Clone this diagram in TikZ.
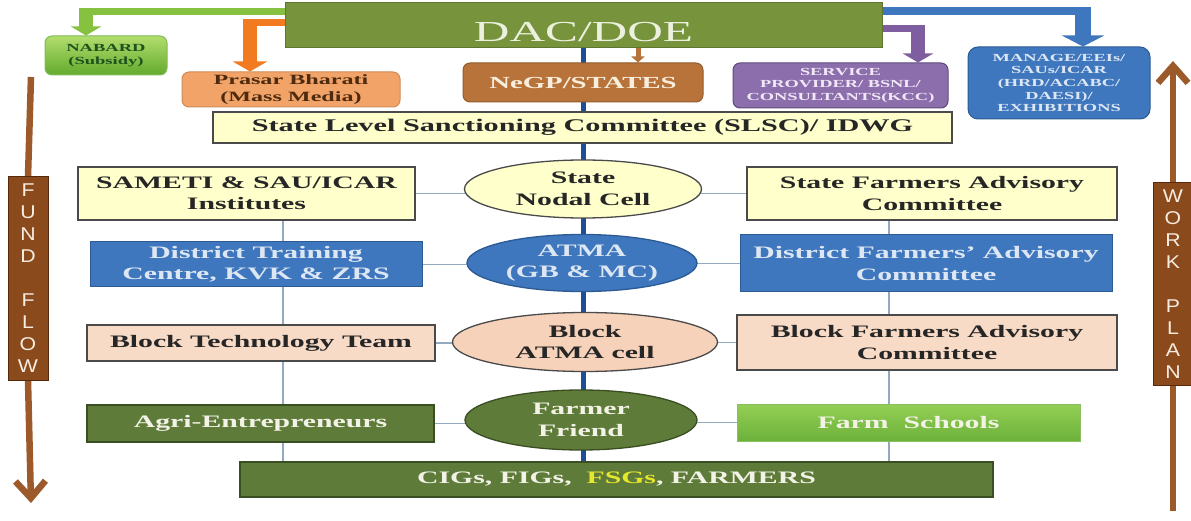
\documentclass[tikz,border=0pt]{standalone}
\usepackage{fontspec}
\setmainfont{Liberation Serif}[FakeStretch=1.7]
\newfontfamily\lettersf{Liberation Sans}[FakeStretch=1.15]
\usetikzlibrary{arrows.meta,shapes.geometric,calc}
\pgfdeclarelayer{bg}
\pgfsetlayers{bg,main}
\definecolor{cdac}{HTML}{77933C}
\definecolor{cdactext}{HTML}{EBF1DE}
\definecolor{cgreenarr}{HTML}{86C140}
\definecolor{cnabtop}{HTML}{B2DD6C}
\definecolor{cnabbot}{HTML}{62AA2E}
\definecolor{corange}{HTML}{F27B22}
\definecolor{cprasar}{HTML}{F2A468}
\definecolor{cprasartext}{HTML}{4E2A0E}
\definecolor{cnegp}{HTML}{B8733A}
\definecolor{cnegptext}{HTML}{F8EEDD}
\definecolor{cbrownarr}{HTML}{B5743C}
\definecolor{cpurple}{HTML}{7E5E9E}
\definecolor{cpurplebox}{HTML}{8D6EAD}
\definecolor{cpurpleb}{HTML}{5E4A7A}
\definecolor{cpurpletext}{HTML}{F0E8F6}
\definecolor{cblue}{HTML}{3F77BE}
\definecolor{cblueb}{HTML}{2C5A92}
\definecolor{cbluetext}{HTML}{DDE7F3}
\definecolor{ccentral}{HTML}{1E4E96}
\definecolor{cyellow}{HTML}{FFFFCC}
\definecolor{cborder}{HTML}{4A4A4A}
\definecolor{cdark}{HTML}{262626}
\definecolor{cpeach}{HTML}{F8DBC6}
\definecolor{cpeachoval}{HTML}{F6D2BA}
\definecolor{cdgreen}{HTML}{5F7B3A}
\definecolor{cdgreenb}{HTML}{3A4E22}
\definecolor{cgtext}{HTML}{F2F2E6}
\definecolor{cfstop}{HTML}{94CF55}
\definecolor{cfsbot}{HTML}{6CB13A}
\definecolor{cfsg}{HTML}{E6E62A}
\definecolor{cthin}{HTML}{93A9C1}
\definecolor{cflow}{HTML}{8B4A1C}
\definecolor{cflowb}{HTML}{55290C}
\definecolor{cflowarr}{HTML}{9C5A2A}
\definecolor{cflowtext}{HTML}{F6ECE0}
\begin{document}
\begin{tikzpicture}[x=1pt,y=-1pt,
  boxbase/.style={rectangle, inner sep=0pt, align=center,
    font=\bfseries\fontsize{17.5pt}{21.5pt}\selectfont},
  yellowbox/.style={boxbase, fill=cyellow, draw=cborder, line width=1.5pt, text=cdark},
  bluebox/.style={boxbase, fill=cblue, draw=cblueb, line width=1pt, text=cbluetext},
  peachbox/.style={boxbase, fill=cpeach, draw=cborder, line width=1.5pt, text=cdark},
  greenbox/.style={boxbase, fill=cdgreen, draw=cdgreenb, line width=1.5pt, text=cgtext},
  ovalbase/.style={ellipse, inner sep=0pt, align=center, line width=1.3pt,
    font=\bfseries\fontsize{17.5pt}{21.5pt}\selectfont},
  topbox/.style={rectangle, rounded corners=7pt, inner sep=0pt, align=center, line width=1pt},
  thinline/.style={draw=cthin, line width=1.8pt},
  centralline/.style={draw=ccentral, line width=4.5pt},
  flowbox/.style={rectangle, fill=cflow, draw=cflowb, line width=1pt, inner sep=0pt,
    align=center, text=cflowtext, font=\lettersf\fontsize{18.5pt}{22pt}\selectfont},
  flowarrow/.style={draw=cflowarr, line width=6.5pt},
]
\useasboundingbox (0,0) rectangle (1191,521);
\begin{pgfonlayer}{bg}
  \fill[white] (0,0) rectangle (1191,521);
\end{pgfonlayer}

% ---------- top row ----------
\node[rectangle, fill=cdac, draw=cdac!80!black, line width=0.8pt, minimum width=597pt, minimum height=45pt,
  inner sep=0pt, text=cdactext, font=\fontsize{29pt}{30pt}\selectfont] (DAC) at (583.5,24.5)
  {\raisebox{-17pt}[0pt][0pt]{DAC/DOE}};
\node[topbox, top color=cnabtop, bottom color=cnabbot, draw=cnabbot!80!white, minimum width=122pt, minimum height=39pt,
  text=cdark!80!green, font=\bfseries\fontsize{10.9pt}{13pt}\selectfont] (NABARD) at (106,55.5) {NABARD\\(Subsidy)};
\node[topbox, fill=cprasar, draw=cprasar!85!black, minimum width=218pt, minimum height=35pt,
  text=cprasartext, font=\bfseries\fontsize{14.2pt}{16.5pt}\selectfont] (PB) at (291,89.5) {Prasar Bharati\\(Mass Media)};
\node[topbox, fill=cnegp, draw=cnegp!80!black, minimum width=240pt, minimum height=39pt,
  text=cnegptext, font=\bfseries\fontsize{16.9pt}{19pt}\selectfont] (NEGP) at (583,82.5) {NeGP/STATES};
\node[topbox, fill=cpurplebox, draw=cpurpleb, minimum width=215pt, minimum height=45pt,
  text=cpurpletext, font=\bfseries\fontsize{10.8pt}{12.5pt}\selectfont] (SP) at (840.5,85.5)
  {SERVICE\\PROVIDER/ BSNL/\\CONSULTANTS(KCC)};
\node[topbox, rounded corners=10pt, fill=cblue, draw=cblueb, minimum width=182pt, minimum height=72pt,
  text=cbluetext, font=\bfseries\fontsize{10.8pt}{12.6pt}\selectfont] (MAN) at (1059,83)
  {MANAGE/EEIs/\\SAUs/ICAR\\(HRD/ACABC/\\DAESI)/\\EXHIBITIONS};

\node[yellowbox, minimum width=739pt, minimum height=31pt, font=\bfseries\fontsize{17.8pt}{20pt}\selectfont]
  (SLSC) at (582.5,127.5) {State Level Sanctioning Committee (SLSC)/ IDWG};

% ---------- state row ----------
\node[yellowbox, minimum width=337pt, minimum height=53pt] (SAMETI) at (246.5,193.5) {SAMETI \& SAU/ICAR\\Institutes};
\node[ovalbase, fill=cyellow, draw=cborder, text=cdark, minimum width=237pt, minimum height=58pt] (SNC) at (583,189) {State\\Nodal Cell};
\node[yellowbox, minimum width=370pt, minimum height=53pt] (SFAC) at (932,193.5) {State Farmers Advisory\\Committee};

% ---------- district row ----------
\node[bluebox, minimum width=332pt, minimum height=45pt] (DTC) at (256,264.5) {District Training\\Centre, KVK \& ZRS};
\node[ovalbase, fill=cblue, draw=cblueb, text=cbluetext, minimum width=230pt, minimum height=57pt] (ATMA) at (582,263) {ATMA\\(GB \& MC)};
\node[bluebox, minimum width=372pt, minimum height=57pt] (DFAC) at (926,263.5) {District Farmers’ Advisory\\Committee};

% ---------- block row ----------
\node[peachbox, minimum width=348pt, minimum height=36pt] (BTT) at (261,343) {Block Technology Team};
\node[ovalbase, fill=cpeachoval, draw=cborder, text=cdark, minimum width=265pt, minimum height=59pt] (BAC) at (585,342) {Block\\ATMA cell};
\node[peachbox, minimum width=380pt, minimum height=55pt] (BFAC) at (927,342.5) {Block Farmers Advisory\\Committee};

% ---------- farmer row ----------
\node[greenbox, minimum width=347pt, minimum height=37pt] (AGRI) at (260.5,423.5) {Agri-Entrepreneurs};
\node[ovalbase, fill=cdgreen, draw=cdgreenb, text=cgtext, minimum width=232pt, minimum height=60pt] (FF) at (581,420) {Farmer\\Friend};
\node[boxbase, top color=cfstop, bottom color=cfsbot, draw=cfsbot!80!white, line width=1pt, text=cgtext,
  minimum width=343pt, minimum height=37pt] (FS) at (908.5,422.5) {Farm\ \ Schools};
\node[greenbox, minimum width=753pt, minimum height=35pt] (CIG) at (616.5,479.5)
  {CIGs, FIGs,\ \ \textcolor{cfsg}{FSGs}, FARMERS};

% ---------- side flow labels ----------
\coordinate (ftop) at (31,77);
\coordinate (fbot) at (31,503);
\coordinate (wtop) at (1173,61);
\coordinate (wbot) at (1173,511);
\node[flowbox, minimum width=40pt, minimum height=203pt] (FUND) at (28,278.5) {F\\U\\N\\D\\[22pt]F\\L\\O\\W};
\node[flowbox, minimum width=40pt, minimum height=202pt] (WORK) at (1173,284) {W\\O\\R\\K\\[22pt]P\\L\\A\\N};

% ---------- connectors (behind) ----------
\begin{pgfonlayer}{bg}
  % central spine
  \draw[centralline] (DAC.south) -- (CIG.north -| DAC.south);
  % small brown arrow
  \coordinate (ba) at (638,0);
  \draw[draw=cbrownarr, line width=5pt, -{Triangle[width=13pt,length=6pt]}] (DAC.south -| ba) -- (NEGP.north -| ba);
  % green to NABARD
  \coordinate (gT) at (86,11.5);
  \draw[draw=cgreenarr, line width=7pt] (DAC.west |- gT) -- ([xshift=-7pt]gT);
  \draw[draw=cgreenarr, line width=14pt, -{Triangle[width=30pt,length=9pt]}] ([yshift=3.5pt]gT) -- (gT |- NABARD.north);
  % orange to Prasar Bharati
  \coordinate (oT) at (250,22.5);
  \draw[draw=corange, line width=7pt] (DAC.west |- oT) -- ([xshift=-7pt]oT);
  \draw[draw=corange, line width=14pt, -{Triangle[width=34pt,length=10pt]}] ([yshift=3.5pt]oT) -- (oT |- PB.north);
  % purple to service provider
  \coordinate (pT) at (918,28.5);
  \draw[draw=cpurple, line width=7pt] (DAC.east |- pT) -- ([xshift=7pt]pT);
  \draw[draw=cpurple, line width=14pt, -{Triangle[width=30pt,length=9pt]}] ([yshift=3.5pt]pT) -- (pT |- SP.north);
  % blue to MANAGE
  \coordinate (bT) at (1083,11.5);
  \draw[draw=cblue, line width=8pt] (DAC.east |- bT) -- ([xshift=8pt]bT);
  \draw[draw=cblue, line width=16pt, -{Triangle[width=42pt,length=11pt]}] ([yshift=4pt]bT) -- (bT |- MAN.north);
  % left column
  \coordinate (lx) at (283,0);
  \draw[thinline] (SAMETI.south -| lx) -- (DTC.north -| lx);
  \draw[thinline] (DTC.south -| lx) -- (BTT.north -| lx);
  \draw[thinline] (BTT.south -| lx) -- (AGRI.north -| lx);
  \draw[thinline] (AGRI.south -| lx) -- (CIG.north -| lx);
  % right column
  \coordinate (rx) at (889,0);
  \draw[thinline] (SFAC.south -| rx) -- (DFAC.north -| rx);
  \draw[thinline] (DFAC.south -| rx) -- (BFAC.north -| rx);
  \draw[thinline] (BFAC.south -| rx) -- (FS.north -| rx);
  \draw[thinline] (FS.south -| rx) -- (CIG.north -| rx);
  % horizontal links
  \draw[thinline] (SAMETI.east) -- (SAMETI.east -| SNC.center);
  \draw[thinline] (SFAC.west) -- (SFAC.west -| SNC.center);
  \draw[thinline] (DTC.east) -- (DTC.east -| ATMA.center);
  \draw[thinline] (DFAC.west) -- (DFAC.west -| ATMA.center);
  \draw[thinline] (BTT.east) -- (BTT.east -| BAC.center);
  \draw[thinline] (BFAC.west) -- (BFAC.west -| BAC.center);
  \draw[thinline] (AGRI.east) -- (AGRI.east -| FF.center);
  \draw[thinline] (FS.west) -- (FS.west -| FF.center);
  % fund flow / work plan arrows
  \draw[flowarrow] (ftop) -- (FUND.north);
  \draw[flowarrow, -{Straight Barb[length=17pt,width=30pt]}] (FUND.south) -- (fbot);
  \draw[flowarrow] (wbot) -- (WORK.south);
  \draw[flowarrow, -{Straight Barb[length=17pt,width=30pt]}] (WORK.north) -- (wtop);
\end{pgfonlayer}
\end{tikzpicture}
\end{document}
